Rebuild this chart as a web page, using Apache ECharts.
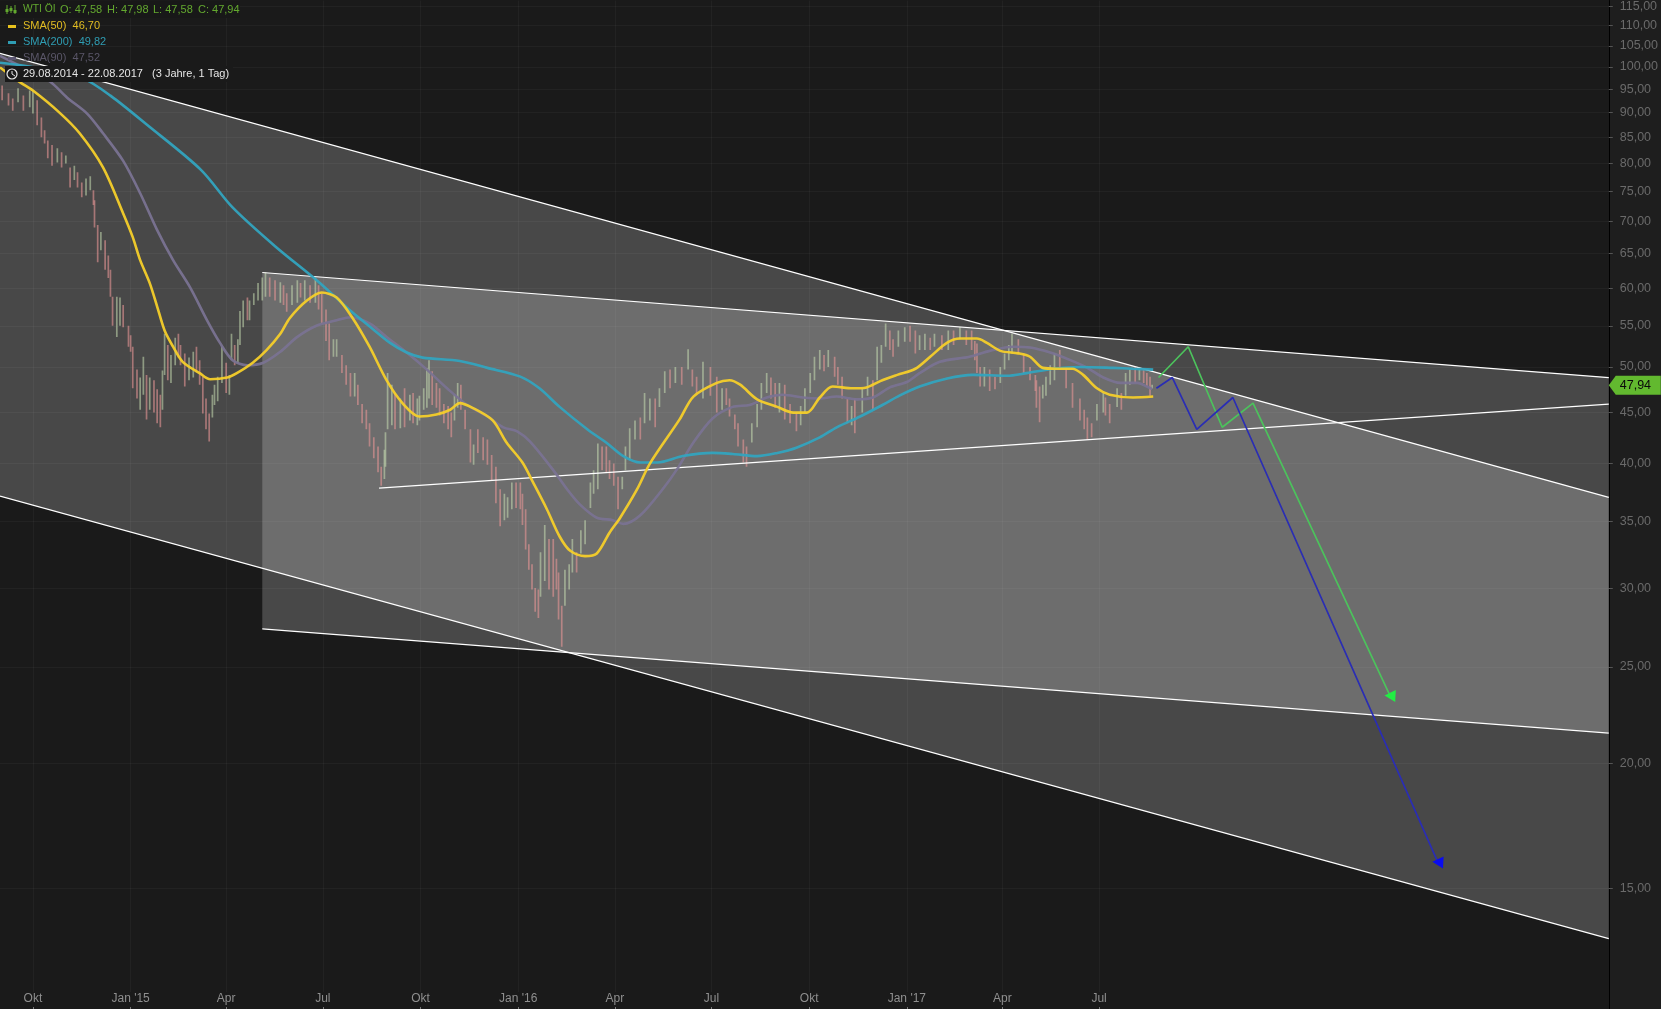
<!DOCTYPE html>
<html><head><meta charset="utf-8">
<style>html,body{margin:0;padding:0;background:#1a1a1a}#c{width:1661px;height:1009px}</style>
<script src="https://cdn.jsdelivr.net/npm/echarts@6/dist/echarts.min.js"></script>
</head><body><div id="c"></div>
<script>
// All x values are days since the first day of the axis, 2014-08-31
var axisStart = Date.UTC(2014, 7, 31);
var axisEndDay = 1515;
var yTicks = [15,20,25,30,35,40,45,50,55,60,65,70,75,80,85,90,95,100,105,110,115];
var xTickDates = ['2014-10-01','2015-01-01','2015-04-01','2015-07-01','2015-10-01','2016-01-01','2016-04-01','2016-07-01','2016-10-01','2017-01-01','2017-04-01','2017-07-01'];
var xTickLabels = ['Okt',"Jan '15",'Apr','Jul','Okt',"Jan '16",'Apr','Jul','Okt',"Jan '17",'Apr','Jul'];
var lastClose = 47.94;

var barDay = [2,8,12,17,22,28,31,35,39,42,
45,49,54,58,62,66,70,73,77,81,
85,88,89,92,95,99,102,104,106,110,
113,116,121,123,125,129,132,135,138,141,
145,148,151,153,155,158,161,165,168,170,
174,178,182,185,188,191,194,197,200,202,
205,209,213,216,218,221,224,226,229,233,
235,239,243,247,250,254,259,264,267,270,
275,280,283,287,292,297,300,303,307,310,
314,317,322,326,330,334,337,341,345,348,
352,356,359,362,363,365,369,372,377,381,
386,389,393,395,399,402,404,407,411,414,
418,422,425,428,431,434,438,443,446,450,
455,459,463,467,471,475,478,482,486,490,
492,495,498,501,504,507,509,513,517,521,
524,526,529,532,536,539,543,547,551,556,
559,563,567,571,574,578,582,586,589,593,
598,603,607,612,617,621,626,631,636,642,
648,652,656,662,669,675,680,684,687,692,
695,700,703,708,713,717,722,726,730,734,
739,744,750,754,758,763,767,772,776,780,
786,789,793,798,802,805,812,817,822,826,
830,834,838,841,846,852,857,862,866,871,
876,880,887,893,898,904,910,915,918,920,
923,927,932,937,942,946,950,953,959,964,
970,975,976,979,982,985,989,993,998,1004,
1010,1017,1021,1024,1028,1033,1039,1041,1045,1052,
1056,1060,1064,1069,1073,1077,1080,1083,1085];
var barHigh = [95.8,94.1,93,95.2,93.6,94.7,94.7,92.6,89,86.4,
84.4,83.5,82.9,82.1,81.5,79.3,79.6,78.4,76.6,77.3,
77.7,75.2,73.5,69.4,68.3,67,64.7,62.6,58.8,58.8,
58.7,57.7,55,53.8,52.4,49.7,48.8,51.2,49.1,48.8,
48.5,47.5,46.9,49.6,54,52.6,51.4,53.5,54,52.6,
51.6,51.1,51.8,52.4,50.8,48.9,46.5,44.9,46.9,48,
48.9,52.4,50.5,49.1,54,52.6,53.3,56.9,58.3,58.7,
58.3,59.3,60.7,61.5,62.2,61.5,61.1,60.8,60.4,59.3,
60.4,61.1,60.7,61.1,60.4,61.5,60.4,59.3,57.1,55.3,
53.3,53.3,51.4,50.2,49.3,49.3,48,45.9,45.3,43.9,
42.5,41.6,39.7,41.3,43,49.3,48,47.1,46.5,47.6,
46.9,47.1,46.5,46.8,47.6,49.9,50.8,49.5,48.2,47.6,
45.9,45.7,45,46.9,48.2,48,45.3,43.3,41.8,43.3,
42.5,42.3,40.8,39.7,37.7,37.3,37,38.3,38.3,38.3,
37.3,36,33.2,31.7,30,29.9,32.6,34.7,33.6,33.6,
32.1,31.1,28.8,31.3,31.7,33.6,32.6,34.3,35.1,38.3,
39.4,41.9,41.6,41.6,40.3,40,38.8,38.8,41.6,43.4,
44.2,44.5,47.1,46.5,46.5,47.6,49.5,49.7,50,50,
52.1,49.7,48.9,50.6,50,48.9,47.6,47.6,46.5,44.8,
43.9,42.3,41.6,43.9,45.9,48.2,49.3,48.8,48.2,48.2,
48,45.9,45,45.7,47.6,49.3,51.2,52,51.4,52,
51.2,50,48.9,46.5,45.7,46.5,47.6,48.9,48.5,52.4,
52.6,55.3,54.4,53.3,54.4,54.8,55,54.4,53.8,54,
53.5,54,53.8,54.4,54.4,54.8,54.4,54.4,53.1,52.8,
50,50,49.7,48.9,50,51.6,52.6,54,53.3,51.6,
50,49.1,48.5,47.8,48,48.9,50.2,51.6,52,50,
48.2,46.5,45.3,44.5,43.9,45.9,47.1,46.6,45.9,47.6,
47.1,49.3,49.7,50,50,49.7,49.3,48.9,47.98];
var barLow = [92.6,91.5,90.4,92.2,90.4,91.1,89.8,87.4,85,83.8,
81,79.6,80.2,79.3,80,75.7,77,75.7,74,74.3,
75.2,72.7,69,63.7,65.5,62.6,61.4,58.8,55,53.6,
55,54.8,52.4,51.8,47.6,46.5,45.3,46.9,44.3,45.3,
45,43.9,43.5,45.3,49.1,48.5,48.2,50.2,51.1,50.2,
47.8,48.5,48.8,49.4,48,44.9,43.3,42.1,44.5,45.8,
46.2,48.2,47.1,46.9,50.8,50.2,50.4,52.6,54.8,55.7,
55.7,57.7,58.3,58.3,58.8,58.8,58.3,58,57.7,56.8,
57.7,58,58.7,58.3,58,58,57.1,55.3,53.1,50.8,
51.2,51.2,49.3,48,46.7,46.7,45.8,43.9,43.3,41.6,
40.5,39.2,38,38.6,39.7,43.3,43.7,43.3,43.4,43.5,
44.2,43.9,43.7,44.2,45.3,45.5,46.5,45.8,45.5,44.7,
43.9,43.3,42.5,44.2,45.5,45.3,43.3,40.1,39.9,41,
40.3,39.9,38.5,36.5,34.6,35.1,35.3,36,36.1,36,
34.7,32.8,31.3,29.9,28.4,28,29.4,30.5,29.9,29.4,
29.9,27.9,26.2,28.8,29.9,31.1,31.1,32.5,33.2,36.1,
37.3,37.7,39.4,39.2,38.6,38,36,37.7,39.4,40.3,
42.3,42.3,43.9,44.2,43.5,45.6,47.1,47.6,48.2,48,
49.7,47.8,47.1,46.5,46.8,45,45.3,45.8,44.6,43.3,
41.6,40.1,39.7,42,43.5,45.3,47.1,46.5,45.5,45,
44.3,43.9,43.1,43.7,45,47.1,48.5,49.7,49.5,50,
48.9,48,46.5,43.9,43.7,42.9,45,46.8,45.3,48.5,
50.5,52.4,52,51.2,52.4,53,53,51.6,52,52,
52,52.4,52,52,52.6,53.3,52.6,52,50.8,49.3,
47.8,47.8,47.3,47.5,48.2,49.7,50.8,51.6,51.6,49.3,
48.5,47.3,45.5,44,46.5,46.8,48,48.5,49.7,47.6,
45.5,44.2,43.3,42.3,42.5,44.2,45,44.7,43.9,45.6,
45.3,46.8,48,48.2,48.5,48.2,47.8,46.8,47.58];
var barUp = [0,0,0,1,0,1,1,0,0,0,
0,0,1,0,1,0,1,0,0,1,
1,0,0,0,1,0,0,0,0,1,
1,0,0,0,0,0,1,1,0,1,
0,0,0,1,1,0,1,1,0,0,
0,1,1,0,0,0,0,0,1,1,
1,1,0,1,1,0,1,1,1,0,
1,1,1,1,1,0,0,1,0,0,
1,1,0,1,0,1,0,0,0,0,
1,1,0,0,0,1,0,0,0,0,
0,0,0,1,1,1,1,0,1,0,
1,0,1,1,1,1,1,0,0,0,
0,0,0,1,1,0,0,0,1,0,
0,0,0,0,0,1,1,1,0,0,
0,0,0,0,0,0,1,1,0,0,
0,0,0,1,1,1,0,1,1,1,
1,1,0,0,0,0,0,1,1,1,
1,0,1,1,0,1,1,0,1,0,
1,0,0,1,0,0,1,0,0,0,
0,0,0,1,1,1,1,0,0,1,
0,0,0,1,1,1,1,1,0,1,
0,0,0,0,1,0,1,1,0,1,
1,1,0,0,1,1,0,0,1,1,
0,1,0,1,0,1,0,0,0,0,
0,1,0,0,1,1,1,1,0,0,
0,0,0,0,1,1,1,1,0,0,
0,0,0,0,0,1,1,0,0,1,
0,1,1,0,1,0,0,0,1];

var sma50Day = [0,19,31,56,75,97,116,
125,132,141,148,155,163,172,188,198,214,
223,238,251,264,273,289,303,317,332,348,
364,379,395,411,424,433,445,464,477,492,
502,515,527,537,551,562,574,584,600,612,
640,653,675,687,697,713,732,747,760,
772,784,803,816,829,845,862,876,892,904,
920,929,942,959,970,982,995,1010,1020,1033,
1045,1067,1086];
var sma50Val = [99.9,96.5,94.7,90,85.8,79.3,71.3,
67.5,64,60.7,57.5,54.4,52.4,50.6,49.3,48.6,48.8,
49.3,50.5,52,54,56,58.3,59.4,58.7,56,52.4,
48.5,46,44.6,44.8,45.3,46,45.5,44.2,42,40.1,
38.3,36,33.8,32.7,32.3,32.5,34.1,35.3,37.7,40,
44.3,46.7,48.2,48.5,48,46.4,45.6,45,45,
46.6,47.8,47.6,47.7,48.4,49.1,49.8,51.2,52.9,53.4,
53.4,52.9,51.9,51.6,51.2,49.9,49.8,49.8,49.1,47.6,
46.9,46.6,46.7];
var sma90Day = [0,24,47,63,82,97,116,132,148,163,
179,195,207,219,233,248,264,280,298,317,
330,348,364,383,402,421,440,459,474,487,
499,521,534,546,562,577,587,603,624,637,
653,671,690,706,722,737,756,772,788,807,
822,838,854,866,885,913,932,954,970,989,
1008,1024,1039,1055,1071,1080,1085];
var sma90Val = [102.6,99.6,96.7,93.2,89.8,85.8,80.5,74.7,68.6,64,
60.1,55.7,52.9,50.8,50.2,50.5,51.8,53.6,55,55.7,
56.1,55.3,53.6,51.7,49.7,47.6,45.8,44.6,43.5,43.1,
42.1,39.4,37.7,36.4,35.3,35.1,34.8,35.5,37.7,39.4,
42,44.4,45.6,45.8,46.6,46.9,46.6,46.5,46.7,46.4,
46.6,47.7,48.3,49.3,50.6,51.2,51.9,52.4,52.3,51.7,
50.8,49.9,48.8,48.2,48.2,47.8,47.5];
var sma200Day = [0,38,78,104,139,189,219,259,299,332,351,367,383,398,433,
459,490,508,527,553,572,587,603,619,643,
671,690,713,732,750,772,788,810,831,847,
866,892,916,948,967,992,1017,1048,1067,1086];
var sma200Val = [101,99.7,97.4,93.6,87.4,78.9,72.3,66.1,61,56.7,54.6,52.9,51.7,51.1,50.7,
49.9,48.9,47.6,45.6,43.3,41.9,40.7,40.1,40.1,40.7,
41,40.9,40.7,41,41.5,42.5,43.5,44.6,45.8,46.8,
47.8,48.7,49.1,49,49.3,49.8,50,49.9,49.8,49.7];

var wedgeDay = [0,1515];
var wedgeTop = [103.2,37.0];
var wedgeBottom = [37.1,13.35];
var channelDay = [247,1515];
var channelTop = [62.2,48.8];
var channelBottom = [27.3,21.46];
var supportDay = [357,1515];
var supportVal = [37.8,45.9];
var greenPathDay = [1091,1119,1151,1180,1309];
var greenPathVal = [48.8,52.4,43.5,46,23.4];
var bluePathDay = [1089,1104,1127,1161,1354];
var bluePathVal = [47.6,48.8,43.3,46.6,15.93];

function zip(days, vals){ return days.map(function(d,i){ return [d, vals[i]]; }); }
var xTickDays = xTickDates.map(function(s){ return (Date.parse(s + 'T00:00:00Z') - axisStart) / 864e5; });
var font = '"Liberation Sans", Arial, sans-serif';
var fillBand = 'rgba(255,255,255,0.205)';

function bandSeries(days, top, bottom){
  return {type:'custom', z:1, silent:true, clip:true,
    data:[[days[0],top[0],bottom[0],days[1],top[1],bottom[1]]],
    encode:{x:[0,3],y:[1,2,4,5]},
    renderItem:function(p,api){
      var a=api.coord([api.value(0),api.value(1)]), b=api.coord([api.value(3),api.value(4)]),
          c=api.coord([api.value(3),api.value(5)]), d=api.coord([api.value(0),api.value(2)]);
      return {type:'polygon', shape:{points:[a,b,c,d]}, style:{fill:fillBand}, silent:true};
    }};
}
function whiteLine(days, vals){
  return {type:'line', z:6, silent:true, symbol:'none', data:zip(days,vals), lineStyle:{color:'#ffffff',width:1.2}};
}
function smaLine(days, vals, color, w, z){
  return {type:'line', z:z, silent:true, symbol:'none', smooth:0.3, data:zip(days,vals), lineStyle:{color:color,width:w,opacity:0.95}};
}
function arrowPath(days, vals, lineColor, headColor){
  var data = zip(days,vals).map(function(p,i){
    if (i === days.length-1) return {value:p, symbol:'triangle', symbolSize:[12,11], symbolRotate:87, itemStyle:{color:headColor}};
    return {value:p, symbol:'none'};
  });
  return {type:'line', z:7, silent:true, showSymbol:true, showAllSymbol:true, data:data, lineStyle:{color:lineColor,width:1.7}, itemStyle:{color:headColor}};
}

var hdr = [];
function rect(x,y,w,h,fill){ hdr.push({type:'rect',z:100,shape:{x:x,y:y,width:w,height:h},style:{fill:fill},silent:true}); }
function txt(x,y,s,fill,size){ hdr.push({type:'text',z:101,x:x,y:y,silent:true,style:{text:s,fill:fill,font:(size||11)+'px '+font,verticalAlign:'middle',textAlign:'left'}}); }
rect(0,1,240,17,'rgba(24,24,24,0.92)');
rect(5,66,228,16,'#1a1a1a');
rect(8,25,8,3,'#e8c21e'); rect(8,41,8,3,'#2f9db3'); rect(8,57,8,3,'#5a5570');
var g='#63a92f';
[7,11,15].forEach(function(x,i){
  hdr.push({type:'line',z:101,silent:true,shape:{x1:x,y1:5+i%2,x2:x,y2:14-i%2},style:{stroke:g,lineWidth:1}});
  rect(x-1.5,[9,8,10][i],3,3,g);
});
hdr.push({type:'circle',z:101,silent:true,shape:{cx:12,cy:74,r:5},style:{fill:'none',stroke:'#e8e8e8',lineWidth:1.2}});
hdr.push({type:'polyline',z:101,silent:true,shape:{points:[[12,71],[12,74],[15,76]]},style:{fill:'none',stroke:'#e8e8e8',lineWidth:1}});
txt(23,9.5,'WTI ÖI',g,10.3);
txt(60,9.5,'O: 47,58',g);
txt(107,9.5,'H: 47,98',g);
txt(153,9.5,'L: 47,58',g);
txt(198,9.5,'C: 47,94',g);
txt(23,25.5,'SMA(50)  46,70','#e2bd22');
txt(23,41.5,'SMA(200)  49,82','#2f9db3');
txt(23,57.5,'SMA(90)  47,52','#5a5668');
txt(23,73.5,'29.08.2014 - 22.08.2017   (3 Jahre, 1 Tag)','#e6e6e6');
hdr.push({type:'rect',z:-1,silent:true,shape:{x:1609,y:0,width:52,height:1009},style:{fill:'#1e1e1e'}});
hdr.push({type:'rect',z:-1,silent:true,shape:{x:1609,y:992,width:1,height:17},style:{fill:'#000'}});

var bars = barDay.map(function(d,i){ return [d,barLow[i],barHigh[i],barUp[i]]; });

var chart = echarts.init(document.getElementById('c'), null, {renderer:'canvas', width:1661, height:1009});
chart.setOption({
  animation:false, backgroundColor:'#1a1a1a',
  textStyle:{fontFamily:font},
  tooltip:{show:false},
  grid:{left:0,right:52,top:0,bottom:17,show:false},
  graphic:hdr,
  xAxis:[{
    type:'value', min:0, max:axisEndDay, position:'bottom',
    axisLine:{show:false, onZero:false},
    axisTick:{show:false, customValues:xTickDays},
    splitLine:{show:true, lineStyle:{color:'rgba(255,255,255,0.04)',width:1}},
    axisLabel:{show:true, customValues:xTickDays, margin:1, color:'#8f8f8f', fontSize:12, fontFamily:font, verticalAlign:'top', hideOverlap:false,
      formatter:function(v){ var i=xTickDays.indexOf(+v); return i<0?'':xTickLabels[i]; }}
  },{
    type:'value', min:0, max:axisEndDay, position:'bottom', offset:15,
    axisLine:{show:false, onZero:false},
    axisTick:{show:true, length:2, customValues:xTickDays, lineStyle:{color:'#777'}},
    splitLine:{show:false}, axisLabel:{show:false}
  }],
  yAxis:{
    type:'log', logBase:10, min:11.8, max:116.6, position:'right',
    axisLine:{show:true, onZero:false, lineStyle:{color:'#000',width:1}},
    axisTick:{show:true, length:4, customValues:yTicks, lineStyle:{color:'#555'}},
    minorTick:{show:false}, minorSplitLine:{show:false},
    splitLine:{show:true, lineStyle:{color:'rgba(255,255,255,0.04)',width:1}},
    axisLabel:{show:true, customValues:yTicks, margin:11, align:'left', color:'#6a6a6a', fontSize:12.5, fontFamily:font, showMinLabel:true, showMaxLabel:true, hideOverlap:false,
      formatter:function(v){ return (+v).toFixed(2).replace('.',','); }}
  },
  series:[
    bandSeries(wedgeDay,wedgeTop,wedgeBottom),
    bandSeries(channelDay,channelTop,channelBottom),
    {type:'custom', z:3, silent:true, clip:true, data:bars, encode:{x:0,y:[1,2]},
      renderItem:function(p,api){
        var a=api.coord([api.value(0),api.value(1)]), b=api.coord([api.value(0),api.value(2)]);
        return {type:'line', silent:true, shape:{x1:a[0],y1:a[1],x2:b[0],y2:b[1]},
          style:{stroke:api.value(3)?'rgba(200,222,178,0.55)':'rgba(232,150,150,0.6)',lineWidth:1.7}};
      }},
    whiteLine(wedgeDay,wedgeTop), whiteLine(wedgeDay,wedgeBottom),
    whiteLine(channelDay,channelTop), whiteLine(channelDay,channelBottom),
    whiteLine(supportDay,supportVal),
    smaLine(sma90Day,sma90Val,'#7a7392',2.6,8),
    smaLine(sma200Day,sma200Val,'#33a4bf',2.6,9),
    smaLine(sma50Day,sma50Val,'#f6cf2a',2.6,10),
    arrowPath(greenPathDay,greenPathVal,'#4cc25c','#22ee44'),
    arrowPath(bluePathDay,bluePathVal,'#2a2db4','#0a0cf0'),
    {type:'custom', z:20, silent:true, clip:false, data:[[axisEndDay,lastClose]], encode:{x:0,y:1},
      renderItem:function(p,api){
        var c=api.coord([api.value(0),api.value(1)]), x=c[0], y=c[1];
        return {type:'group',children:[
          {type:'polygon',shape:{points:[[x,y],[x+7,y-9.5],[x+52,y-9.5],[x+52,y+9.5],[x+7,y+9.5]]},style:{fill:'#62b92f'}},
          {type:'text',x:x+11,y:y,style:{text:lastClose.toFixed(2).replace('.',','),fill:'#0a0a0a',font:'12.5px '+font,verticalAlign:'middle',textAlign:'left'}}
        ]};
      }}
  ]
});
</script></body></html>
